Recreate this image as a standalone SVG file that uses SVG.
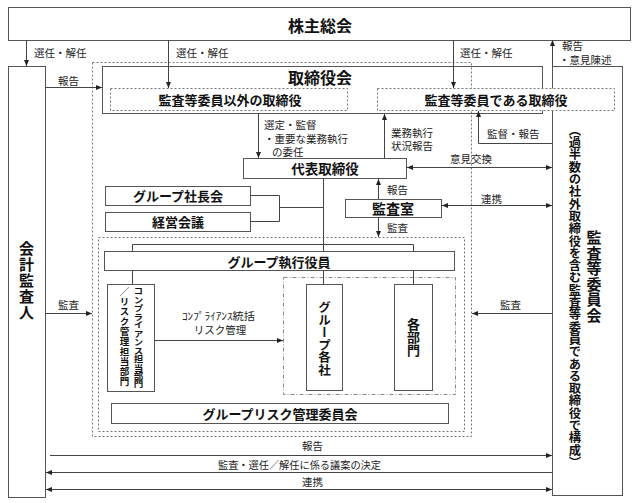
<svg xmlns="http://www.w3.org/2000/svg" width="640" height="503" viewBox="0 0 640 503">
<style>
text{font-family:"Noto Sans CJK JP","Noto Sans",sans-serif;fill:#111}
.b{font-weight:bold}
.t{dominant-baseline:central;text-anchor:middle}
.box{fill:#fff;stroke:#555;stroke-width:1}
.dot{fill:none;stroke:#777;stroke-width:1;stroke-dasharray:2 2}
.dotw{fill:#fff;stroke:#777;stroke-width:1;stroke-dasharray:2 2}
.dd{fill:none;stroke:#888;stroke-width:1;stroke-dasharray:4 2 1 2}
.ln{fill:none;stroke:#444;stroke-width:1}
.ae{marker-end:url(#ah)}
.as{marker-start:url(#ah)}
.lbl{font-size:10.5px;fill:#222}
.v{writing-mode:vertical-rl}
</style>
<defs>
<marker id="ah" viewBox="0 0 6 6" refX="6" refY="3" markerWidth="6" markerHeight="6" orient="auto-start-reverse"><path d="M0,0.5 L6,3 L0,5.5 z" fill="#222"/></marker>
</defs>
<rect width="640" height="503" fill="#fff"/>

<g id="shareholders"><rect class="box" x="8.5" y="7.5" width="622" height="33"/><text class="b t" x="320" y="25" font-size="16">株主総会</text></g>

<g id="board"><rect class="box" x="102.5" y="66.5" width="440" height="47"/><text class="b t" x="320" y="77" font-size="16">取締役会</text></g>

<g id="scope-board"><rect class="dot" x="92.5" y="62.5" width="379" height="374"/></g>
<g id="scope-exec"><rect class="dot" x="98.5" y="237.5" width="366" height="194"/></g>

<g id="accountant"><rect class="box" x="8.5" y="66.5" width="37" height="431"/><text class="b v" x="26.5" y="241" font-size="15" letter-spacing="1">会計監査人</text></g>

<g id="auditcomm"><rect class="box" x="552.5" y="66.5" width="70" height="429"/>
<text class="b v" x="575" y="124" font-size="12.3">（過半数の社外取締役を含む監査等委員である取締役で構成）</text>
<text class="b v" x="594" y="230" font-size="15" letter-spacing="0.5">監査等委員会</text></g>

<g id="nonaudit"><rect class="dotw" x="110.5" y="88.5" width="237" height="22"/><text class="b t" x="230" y="99" font-size="13">監査等委員以外の取締役</text></g>
<g id="auditdir"><rect class="dotw" x="377.5" y="88.5" width="237" height="22"/><text class="b t" x="496" y="99" font-size="13">監査等委員である取締役</text></g>

<g id="ceo"><rect class="box" x="243.5" y="158.5" width="163" height="20"/><text class="b t" x="325" y="168" font-size="13.5">代表取締役</text></g>
<g id="presidents"><rect class="box" x="105.5" y="186.5" width="145" height="19"/><text class="b t" x="178" y="195.5" font-size="13">グループ社長会</text></g>
<g id="mgmt"><rect class="box" x="105.5" y="212.5" width="145" height="19"/><text class="b t" x="178" y="221.5" font-size="13">経営会議</text></g>
<g id="auditroom"><rect class="box" x="345.5" y="199.5" width="96" height="18"/><text class="b t" x="393" y="208" font-size="14">監査室</text></g>

<g id="groupexec"><rect class="box" x="104.5" y="251.5" width="350" height="19"/><text class="b t" x="279" y="261" font-size="13">グループ執行役員</text></g>

<g id="compliance"><rect class="box" x="107.5" y="284.5" width="47" height="107"/>
<text class="b v" x="138.5" y="0" font-size="9.5" transform="translate(0,287) scale(1,0.89)">コンプライアンス担当部門</text>
<text class="b v" x="124.5" y="287" font-size="9.5" letter-spacing="0.5">／リスク管理担当部門</text></g>

<g id="scope-group"><rect class="dd" x="283.5" y="277.5" width="172" height="117"/></g>
<g id="groupcos"><rect class="box" x="306.5" y="284.5" width="36" height="106"/><text class="b v" x="324.5" y="301" font-size="12.5">グループ各社</text></g>
<g id="depts"><rect class="box" x="394.5" y="284.5" width="38" height="106"/><text class="b v" x="413.5" y="318" font-size="13">各部門</text></g>

<g id="riskcomm"><rect class="box" x="111.5" y="403.5" width="337" height="20"/><text class="b t" x="280" y="413" font-size="13">グループリスク管理委員会</text></g>

<g id="connectors">
<path class="ln ae" d="M26.5,40 V66"/>
<path class="ln ae" d="M168.5,40 V88"/>
<path class="ln ae" d="M453.5,40 V88"/>
<path class="ln ae" d="M552.5,66 V40"/>
<path class="ln ae" d="M45,87.5 H102"/>
<path class="ln ae" d="M258.5,114 V158"/>
<path class="ln ae" d="M384.5,158 V114"/>
<path class="ln ae" d="M552,143.5 H478.5 V111"/>
<path class="ln ae as" d="M407,167.5 H552"/>
<path class="ln ae" d="M378.5,199 V179"/>
<path class="ln ae" d="M378.5,218 V237"/>
<path class="ln ae as" d="M442,205.5 H552"/>
<path class="ln" d="M250,195.5 H279.5 V221.5 H250 M279.5,207.5 H323.5"/>
<path class="ln" d="M323.5,179 V251"/>
<path class="ln" d="M132.5,251 V244.5 H413.5 V251"/>
<path class="ln" d="M132.5,271 V284 M323.5,271 V284 M413.5,271 V284"/>
<path class="ln ae" d="M155,340.5 H283"/>
<path class="ln ae" d="M45,313.5 H92"/>
<path class="ln ae" d="M552,313.5 H472"/>
<path class="ln ae" d="M50,455.5 H552"/>
<path class="ln ae" d="M552,472.5 H46"/>
<path class="ln ae as" d="M46,489.5 H552"/>
</g>

<g id="labels">
<text class="lbl" x="34" y="57">選任・解任</text>
<text class="lbl" x="176" y="57">選任・解任</text>
<text class="lbl" x="460" y="57">選任・解任</text>
<text class="lbl" x="562" y="50">報告</text>
<text class="lbl" x="559" y="63.5">・意見陳述</text>
<text class="lbl" x="58" y="85">報告</text>
<text class="lbl" x="264" y="129">選定・監督</text>
<text class="lbl" x="264" y="142.5">・重要な業務執行</text>
<text class="lbl" x="272" y="156">の委任</text>
<text class="lbl" x="391" y="136.5">業務執行</text>
<text class="lbl" x="391" y="150">状況報告</text>
<text class="lbl" x="487" y="138">監督・報告</text>
<text class="lbl" x="450" y="163">意見交換</text>
<text class="lbl" x="387" y="194">報告</text>
<text class="lbl" x="481" y="203">連携</text>
<text class="lbl" x="387" y="232">監査</text>
<text class="lbl" x="58" y="309">監査</text>
<text class="lbl" x="500" y="309">監査</text>
<text class="lbl" x="182" y="319.5" textLength="73" lengthAdjust="spacingAndGlyphs">ｺﾝﾌﾟﾗｲｱﾝｽ統括</text>
<text class="lbl" x="220" y="333.5" text-anchor="middle">リスク管理</text>
<text class="lbl" x="302" y="450">報告</text>
<text class="lbl" x="218" y="469" textLength="163" lengthAdjust="spacingAndGlyphs">監査・選任／解任に係る議案の決定</text>
<text class="lbl" x="302" y="486">連携</text>
</g>
</svg>
